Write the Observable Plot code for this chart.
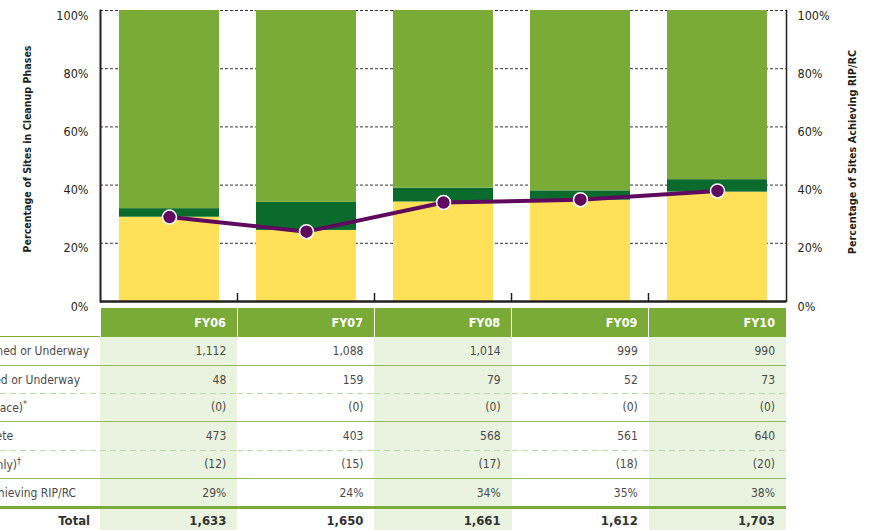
<!DOCTYPE html>
<html>
<head>
<meta charset="utf-8">
<script src="https://cdn.jsdelivr.net/npm/d3@7"></script>
<script src="https://cdn.jsdelivr.net/npm/@observablehq/plot@0.6"></script>
<style>
html, body { margin:0; padding:0; background:#fff; overflow:hidden; width:869px; height:530px; }
body { position:relative; font-family:"Liberation Sans Narrow","DejaVu Sans Condensed","Roboto Condensed","Arial Narrow",Roboto,sans-serif; }
#chart { position:absolute; left:0; top:0; z-index:2; }
#chart svg { overflow:visible; }
table { position:absolute; left:0; top:308px; z-index:1; border-collapse:collapse; table-layout:fixed; width:786px; font-size:12px; color:#4a4a4a; }
th { height:28px; background:#7aab36; color:#fff; font-weight:bold; text-align:right; padding:0 11px 0 0; border-left:1.5px solid #fff; font-size:12.5px; }
th.lab { background:transparent; border-left:none; }
td { padding:0 11px 0 0; text-align:right; white-space:nowrap; }
td.lab { position:relative; padding:0; }
td.lab span { position:absolute; top:50%; transform:translateY(-50%); white-space:nowrap; }
td.alt { background-color:#e9f3df; }
tr.head { border-bottom:1.5px solid #7aab36; }
tr.solid td { border-bottom:1.5px solid #8dbd5c; }
tr.dashed td { background-image:repeating-linear-gradient(to right, #b9dba0 0 6px, transparent 6px 10px); background-size:100% 1px; background-position:bottom; background-repeat:no-repeat; }
tr.thick td { border-bottom:3px solid #7aab36; }
tr.total td { font-weight:bold; color:#333; font-size:13px; height:22px; }
sup { font-size:9px; }
</style>
</head>
<body>
<div id="chart"></div>
<script>
// ---- data ----
const years = ["FY06", "FY07", "FY08", "FY09", "FY10"];
const plannedOrUnderway = [1112, 1088, 1014, 999, 990];
const underway = [48, 159, 79, 52, 73];
const maintenance = [0, 0, 0, 0, 0];
const complete = [473, 403, 568, 561, 640];
const ltmOnly = [12, 15, 17, 18, 20];
const pctAchieving = [29, 24, 34, 35, 38];
const totals = [1633, 1650, 1661, 1612, 1703];
const yTicks = [0, 20, 40, 60, 80, 100];
const phases = ["Response Complete", "Cleanup Underway", "Planned or Underway"];
const phaseColors = ["#fee159", "#0b6b2c", "#7aab36"];
const leftTitle = "Percentage of Sites in Cleanup Phases";
const rightTitle = "Percentage of Sites Achieving RIP/RC";
const rowLabels = [
  "Investigation Planned or Underway",
  "Remedial Action Planned or Underway",
  "(Sites with Remedy in Place)",
  "Response Complete",
  "(Requiring Long-Term Management Only)",
  "Percentage of Sites Achieving RIP/RC"
];
const rowMarks = ["", "", "*", "", "†", ""];
const totalLabel = "Total";

// ---- layout (not data) ----
const labelEnds = [89, 80, 27, 13, 21, 76];
const rowStyles = ["solid", "dashed", "solid", "dashed", "solid", "thick"];
const rowHeights = [29, 28, 28, 29, 28, 29];

// ---- chart ----
const barData = years.flatMap((yr, i) => [
  {year: yr, phase: phases[0], pct: complete[i] / totals[i] * 100},
  {year: yr, phase: phases[1], pct: underway[i] / totals[i] * 100},
  {year: yr, phase: phases[2], pct: plannedOrUnderway[i] / totals[i] * 100}
]);
const lineData = years.map((yr, i) => ({year: yr, pct: pctAchieving[i]}));
const font = "'Liberation Sans Narrow','DejaVu Sans Condensed','Roboto Condensed','Arial Narrow',Roboto,sans-serif";

const plot = Plot.plot({
  width: 869, height: 308,
  marginLeft: 100, marginRight: 83, marginTop: 10, marginBottom: 7,
  style: {fontFamily: font, fontSize: "12.5px", color: "#231f20", background: "transparent", overflow: "visible"},
  x: {type: "band", domain: years, paddingInner: 0.27, paddingOuter: 0.135, axis: null},
  y: {domain: [0, 100], axis: null},
  color: {domain: phases, range: phaseColors},
  marks: [
    Plot.gridY(yTicks.slice(1), {stroke: "#333", strokeOpacity: 1, strokeDasharray: "3,2", strokeWidth: 1}),
    Plot.barY(barData, {x: "year", y: "pct", fill: "phase", inset: 0}),
    Plot.line(lineData, {x: "year", y: "pct", stroke: "#5f0a5f", strokeWidth: 4}),
    Plot.dot(lineData, {x: "year", y: "pct", r: 7, fill: "#5f0a5f", stroke: "#fff", strokeWidth: 1.5}),
    Plot.axisY(yTicks, {anchor: "left", tickSize: 0, tickPadding: 12, tickFormat: d => d + "%", dy: 5, label: null, fontSize: 12.5}),
    Plot.axisY(yTicks, {anchor: "right", tickSize: 0, tickPadding: 11, tickFormat: d => d + "%", dy: 5, label: null, fontSize: 12.5}),
    Plot.ruleY([0], {stroke: "#231f20", strokeWidth: 2.5}),
    Plot.frame({anchor: "left", stroke: "#231f20", strokeWidth: 2}),
    Plot.frame({anchor: "right", stroke: "#231f20", strokeWidth: 1.5}),
    Plot.text([leftTitle], {text: d => d, frameAnchor: "left", textAnchor: "middle", rotate: -90, dx: -73, dy: -7, fontWeight: "bold", fontSize: 10.6}),
    Plot.text([rightTitle], {text: d => d, frameAnchor: "right", textAnchor: "middle", rotate: -90, dx: 66, dy: -4, fontWeight: "bold", fontSize: 10.8})
  ]
});

// small ticks on the baseline between the fiscal-year bands
const xs = plot.scale("x");
const ys = plot.scale("y");
const gap = (xs.step - xs.bandwidth) / 2;
d3.select(plot).append("g")
  .attr("stroke", "#231f20").attr("stroke-width", 1.5)
  .selectAll("line").data(years.slice(0, -1)).join("line")
  .attr("x1", d => xs.apply(d) + xs.bandwidth + gap)
  .attr("x2", d => xs.apply(d) + xs.bandwidth + gap)
  .attr("y1", ys.apply(0))
  .attr("y2", ys.apply(0) - 8);

document.getElementById("chart").append(plot);

// ---- table ----
const fmt = d3.format(",");
const rowsValues = [
  plannedOrUnderway.map(fmt),
  underway.map(fmt),
  maintenance.map(v => "(" + fmt(v) + ")"),
  complete.map(fmt),
  ltmOnly.map(v => "(" + fmt(v) + ")"),
  pctAchieving.map(v => v + "%")
];
const colW = (xs.step).toFixed(2);
let html = "<table><colgroup><col style='width:100px'>" + years.map(() => `<col style='width:${colW}px'>`).join("") + "</colgroup>";
html += "<tr class='head'><th class='lab'></th>" + years.map(y => `<th>${y}</th>`).join("") + "</tr>";
rowsValues.forEach((vals, r) => {
  html += `<tr class='${rowStyles[r]}' style='height:${rowHeights[r]}px'><td class='lab'><span style='right:${100 - labelEnds[r]}px'>${rowLabels[r]}${rowMarks[r] ? "<sup>" + rowMarks[r] + "</sup>" : ""}</span></td>`;
  html += vals.map((v, i) => `<td class='${i % 2 === 0 ? "alt" : ""}'>${v}</td>`).join("") + "</tr>";
});
html += `<tr class='total'><td style='text-align:right;padding-right:10px'>${totalLabel}</td>` +
  totals.map((v, i) => `<td class='${i % 2 === 0 ? "alt" : ""}'>${fmt(v)}</td>`).join("") + "</tr></table>";
document.body.insertAdjacentHTML("beforeend", html);
</script>
</body>
</html>
